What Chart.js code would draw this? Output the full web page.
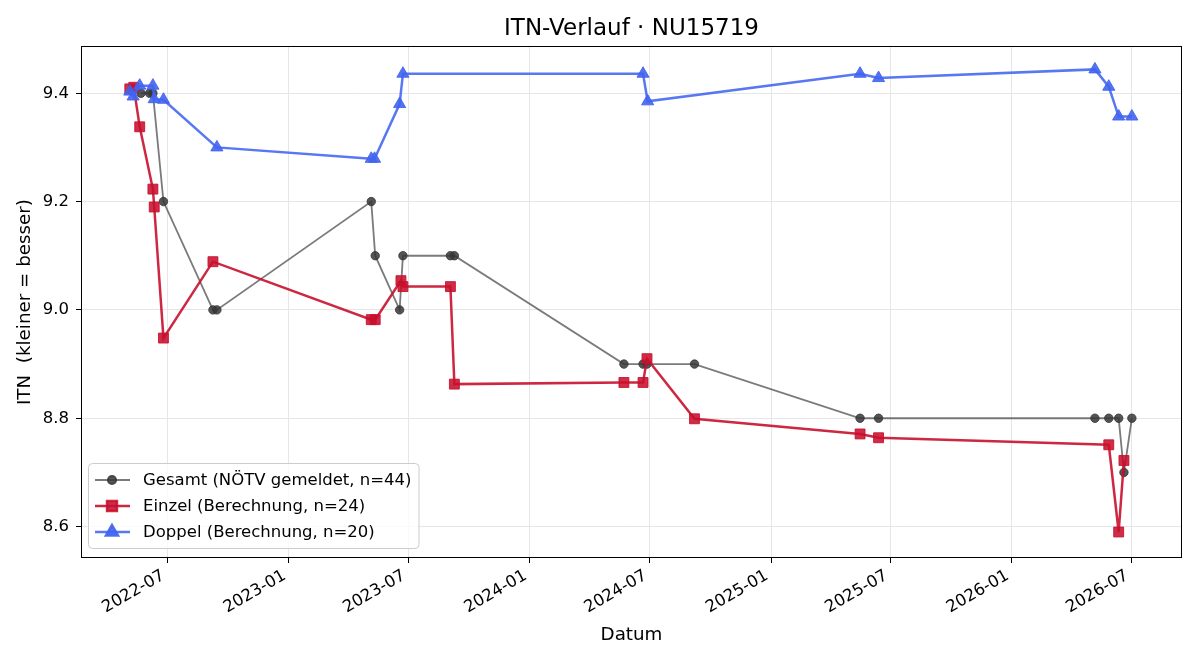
<!DOCTYPE html>
<html><head><meta charset="utf-8">
<script src="https://cdn.jsdelivr.net/npm/chart.js@4.4.1/dist/chart.umd.min.js"></script>
<style>html,body{margin:0;padding:0;background:#fff}#wrap{width:1200px;height:660px}</style>
</head><body><div id="wrap"><canvas id="c" width="1200" height="660"></canvas></div>
<script>
// ---- data ----
const gesamtDates = ['2022-05-22','2022-06-04','2022-06-09','2022-06-25','2022-09-08','2022-09-14','2023-05-06','2023-05-12','2023-06-18','2023-06-23','2023-09-03','2023-09-09','2024-05-23','2024-06-21','2024-06-27','2024-09-07','2025-05-16','2025-06-13','2026-05-07','2026-05-28','2026-06-12','2026-06-20','2026-07-02'];
const gesamtValues = [9.4,9.4,9.4,9.2,9.0,9.0,9.2,9.1,9.0,9.1,9.1,9.1,8.9,8.9,8.9,8.9,8.8,8.8,8.8,8.8,8.8,8.7,8.8];

const einzelDates = ['2022-05-05','2022-05-11','2022-05-20','2022-06-09','2022-06-11','2022-06-25','2022-09-08','2023-05-06','2023-05-12','2023-06-20','2023-06-23','2023-09-03','2023-09-09','2024-05-23','2024-06-21','2024-06-27','2024-09-07','2025-05-16','2025-06-13','2026-05-28','2026-06-12','2026-06-20'];
const einzelValues = [9.408,9.411,9.338,9.223,9.190,8.948,9.089,8.982,8.982,9.054,9.043,9.043,8.863,8.866,8.866,8.910,8.799,8.771,8.764,8.751,8.590,8.722];

const doppelDates = ['2022-05-05','2022-05-10','2022-05-20','2022-06-09','2022-06-11','2022-06-25','2022-09-14','2023-05-06','2023-05-11','2023-06-18','2023-06-23','2024-06-21','2024-06-28','2025-05-16','2025-06-13','2026-05-07','2026-05-28','2026-06-12','2026-07-02'];
const doppelValues = [9.403,9.394,9.414,9.414,9.389,9.388,9.300,9.279,9.279,9.380,9.436,9.436,9.385,9.436,9.428,9.444,9.412,9.357,9.357];

const seriesLabels = ['Gesamt (NÖTV gemeldet, n=44)','Einzel (Berechnung, n=24)','Doppel (Berechnung, n=20)'];
const xTickLabels = ['2022-07','2023-01','2023-07','2024-01','2024-07','2025-01','2025-07','2026-01','2026-07'];
const yTickValues = [8.6,8.8,9.0,9.2,9.4];
const chartTitle = 'ITN-Verlauf · NU15719';
const xTitle = 'Datum';
const yTitle = 'ITN  (kleiner = besser)';

// ---- helpers ----
function ts(s){ return Date.parse(s + 'T00:00:00Z'); }
function toPoints(d, v){ return d.map((s, i) => ({x: ts(s), y: v[i]})); }
function fmtMonth(v){ const d = new Date(v); return d.getUTCFullYear() + '-' + String(d.getUTCMonth() + 1).padStart(2, '0'); }

const FONT = 'DejaVu Sans';
const TICK_SIZE = 16.5;
const LABEL_SIZE = 18.3;

const frame = {
  id: 'frame',
  afterDatasetsDraw(chart){
    const {ctx, chartArea:a} = chart;
    ctx.save();
    ctx.strokeStyle = '#000';
    ctx.lineWidth = 1;
    ctx.strokeRect(Math.round(a.left) + 0.5, Math.round(a.top) + 0.5, Math.round(a.right - a.left) - 1, Math.round(a.bottom - a.top) - 1);
    ctx.restore();
  }
};

const mplLegend = {
  id: 'mplLegend',
  afterDraw(chart){
    const {ctx, chartArea:a} = chart;
    const ds = chart.data.datasets;
    ctx.save();
    ctx.font = TICK_SIZE + 'px "' + FONT + '"';
    let maxW = 0;
    ds.forEach(d => { maxW = Math.max(maxW, ctx.measureText(d.label).width); });
    const bx = a.left + 7, bw = 55 + maxW + 7, bh = 85, by = a.bottom - 10 - bh;
    ctx.beginPath();
    if (ctx.roundRect) ctx.roundRect(bx + 0.5, by + 0.5, bw, bh, 4); else ctx.rect(bx + 0.5, by + 0.5, bw, bh);
    ctx.fillStyle = 'rgba(255,255,255,0.8)';
    ctx.fill();
    ctx.strokeStyle = '#cccccc';
    ctx.lineWidth = 1;
    ctx.stroke();
    ds.forEach((d, i) => {
      const y = by + 17 + i * 26;
      ctx.beginPath();
      ctx.moveTo(bx + 7, y); ctx.lineTo(bx + 42, y);
      ctx.strokeStyle = d.borderColor; ctx.lineWidth = d.borderWidth;
      ctx.stroke();
      ctx.fillStyle = d.pointBackgroundColor;
      ctx.strokeStyle = d.pointBorderColor;
      Chart.helpers.drawPoint(ctx, {pointStyle: d.pointStyle, radius: d.pointRadius, rotation: 0, borderWidth: 1}, bx + 24, y);
      ctx.fillStyle = '#000';
      ctx.textBaseline = 'middle';
      ctx.textAlign = 'left';
      ctx.fillText(d.label, bx + 55, y + 1);
    });
    ctx.restore();
  }
};

new Chart(document.getElementById('c'), {
  type: 'line',
  data: {
    datasets: [
      {label: seriesLabels[0], data: toPoints(gesamtDates, gesamtValues), borderColor: 'rgba(70,70,70,0.72)', borderWidth: 1.8,
       pointStyle: 'circle', pointRadius: 4.2, pointBackgroundColor: 'rgba(55,55,55,0.85)', pointBorderColor: 'rgba(55,55,55,0.85)', pointBorderWidth: 1, order: 3},
      {label: seriesLabels[1], data: toPoints(einzelDates, einzelValues), borderColor: 'rgba(200,16,46,0.9)', borderWidth: 2.5,
       pointStyle: 'rect', pointRadius: 7, pointBackgroundColor: 'rgba(200,16,46,0.88)', pointBorderColor: 'rgba(200,16,46,0.88)', pointBorderWidth: 1, order: 2},
      {label: seriesLabels[2], data: toPoints(doppelDates, doppelValues), borderColor: 'rgba(65,100,240,0.88)', borderWidth: 2.5,
       pointStyle: 'triangle', pointRadius: 7, pointBackgroundColor: 'rgba(65,100,240,0.9)', pointBorderColor: 'rgba(65,100,240,0.9)', pointBorderWidth: 1, order: 1}
    ]
  },
  options: {
    responsive: false,
    animation: false,
    layout: {padding: {left: 0, right: 18, top: 0, bottom: 0}},
    elements: {line: {tension: 0}},
    plugins: {
      legend: {display: false},
      tooltip: {enabled: false},
      title: {display: true, fullSize: false, text: chartTitle, color: '#000', font: {family: FONT, size: 23, weight: 'normal'}, padding: {top: 15.5, bottom: 3}}
    },
    scales: {
      x: {
        type: 'linear',
        min: ts('2022-02-20'), max: ts('2026-09-16'),
        afterBuildTicks: s => { s.ticks = xTickLabels.map(l => ({value: ts(l + '-01')})); },
        afterFit: s => { s.height = 102; },
        ticks: {callback: v => fmtMonth(v), autoSkip: false, maxRotation: 30, minRotation: 30, padding: 3, labelOffset: -4, color: '#000', font: {family: FONT, size: TICK_SIZE}},
        grid: {color: '#e6e6e6', tickColor: '#000', tickLength: 5},
        border: {display: false},
        title: {display: true, text: xTitle, color: '#000', font: {family: FONT, size: LABEL_SIZE}, padding: {top: 4, bottom: 14}}
      },
      y: {
        type: 'linear',
        min: 8.542, max: 9.487,
        afterBuildTicks: s => { s.ticks = yTickValues.map(v => ({value: v})); },
        afterFit: s => { s.width = 81; },
        ticks: {callback: v => Number(v).toFixed(1), padding: 7, color: '#000', font: {family: FONT, size: TICK_SIZE}},
        grid: {color: '#e6e6e6', tickColor: '#000', tickLength: 5},
        border: {display: false},
        title: {display: true, text: yTitle, color: '#000', font: {family: FONT, size: LABEL_SIZE}, padding: {top: 14.5, bottom: 0}}
      }
    }
  },
  plugins: [frame, mplLegend]
});
</script>
</body></html>
